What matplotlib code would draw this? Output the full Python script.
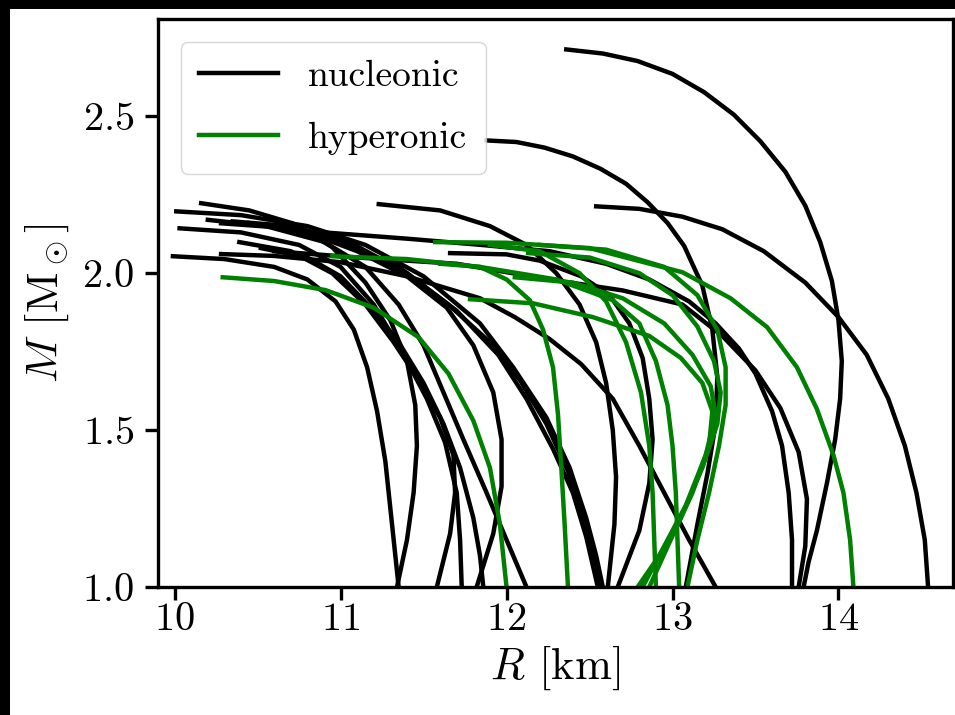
import matplotlib
matplotlib.use("Agg")
import matplotlib.pyplot as plt
from matplotlib.patches import Rectangle

plt.rcParams['font.family'] = ['cmr10', 'DejaVu Serif']
plt.rcParams['mathtext.fontset'] = 'cm'
plt.rcParams['axes.formatter.use_mathtext'] = True

# ---- data: (R [km], M [Msun]) points ----
# nucleonic EoS
nuc_big = [(12.36, 2.713), (12.58, 2.70), (12.79, 2.676), (13.0, 2.635), (13.19, 2.577),
           (13.37, 2.505), (13.53, 2.42), (13.68, 2.323), (13.80, 2.215), (13.89, 2.099),
           (13.96, 1.976), (14.0, 1.85), (14.02, 1.72), (14.01, 1.6), (13.98, 1.47),
           (13.93, 1.33), (13.87, 1.18), (13.82, 1.08), (13.79, 1.0)]
nuc_wide = [(12.54, 2.213), (12.8, 2.205), (13.06, 2.18), (13.3, 2.14), (13.55, 2.07),
            (13.8, 1.97), (14.0, 1.86), (14.17, 1.74), (14.3, 1.6), (14.4, 1.45),
            (14.47, 1.3), (14.52, 1.15), (14.54, 1.0)]
nuc_242 = [(11.88, 2.423), (12.06, 2.418), (12.23, 2.40), (12.4, 2.372), (12.565, 2.333),
           (12.72, 2.285), (12.85, 2.226), (12.97, 2.16), (13.07, 2.087), (13.18, 1.96),
           (13.24, 1.82), (13.27, 1.67), (13.26, 1.52), (13.21, 1.36), (13.15, 1.2),
           (13.08, 1.0)]
nuc_222 = [(11.23, 2.22), (11.6, 2.2), (11.9, 2.15), (12.12, 2.09), (12.3, 2.0),
           (12.44, 1.9), (12.54, 1.78), (12.6, 1.65), (12.64, 1.5), (12.66, 1.35),
           (12.65, 1.2), (12.61, 1.0)]
nuc_mid = [(10.9, 2.13), (11.4, 2.11), (11.85, 2.09), (12.26, 2.07), (12.6, 2.03),
           (12.86, 1.98), (13.1, 1.91), (13.26, 1.84), (13.4, 1.76), (13.5, 1.68),
           (13.6, 1.56), (13.66, 1.45), (13.7, 1.3), (13.72, 1.15), (13.72, 1.0)]
nuc_l9 = [(10.6, 2.07), (11.1, 2.05), (11.7, 2.03), (12.26, 1.98), (12.7, 1.945),
          (13.06, 1.9), (13.3, 1.8), (13.5, 1.69), (13.65, 1.57), (13.76, 1.43),
          (13.81, 1.28), (13.8, 1.13), (13.76, 1.0)]
nuc_diag = [(10.28, 2.061), (10.6, 2.055), (11.0, 2.035), (11.4, 1.99), (11.84, 1.92),
            (12.05, 1.86), (12.26, 1.79), (12.45, 1.71), (12.64, 1.6), (12.8, 1.45),
            (12.95, 1.3), (13.1, 1.15), (13.26, 1.0)]
nuc_b1 = [(10.01, 2.197), (10.4, 2.185), (10.8, 2.15), (11.15, 2.09), (11.5, 1.99),
          (11.84, 1.84), (12.04, 1.7), (12.24, 1.54), (12.38, 1.38), (12.48, 1.22),
          (12.54, 1.1), (12.58, 1.0)]
nuc_b2 = [(10.28, 2.159), (10.65, 2.145), (11.0, 2.1), (11.35, 2.02), (11.65, 1.9),
          (11.9, 1.78), (12.08, 1.66), (12.24, 1.52), (12.37, 1.37), (12.47, 1.2),
          (12.53, 1.08), (12.56, 1.0)]
nuc_b3 = [(10.35, 2.165), (10.7, 2.15), (11.05, 2.1), (11.4, 2.0), (11.7, 1.88),
          (11.95, 1.74), (12.12, 1.6), (12.28, 1.44), (12.4, 1.3), (12.48, 1.16),
          (12.55, 1.0)]
nuc_l4 = [(10.03, 2.143), (10.4, 2.13), (10.75, 2.09), (11.0, 2.02), (11.2, 1.9),
          (11.38, 1.74), (11.52, 1.6), (11.63, 1.46), (11.7, 1.3), (11.72, 1.15),
          (11.73, 1.0)]
nuc_arc = [(10.16, 2.223), (10.45, 2.2), (10.71, 2.159), (10.95, 2.083), (11.15, 1.97),
           (11.3, 1.85), (11.4, 1.72), (11.45, 1.58), (11.46, 1.45), (11.44, 1.3),
           (11.4, 1.15), (11.34, 1.0)]
nuc_l1 = [(9.99, 2.054), (10.3, 2.045), (10.6, 2.02), (10.8, 1.98), (10.97, 1.91),
          (11.08, 1.82), (11.16, 1.70), (11.22, 1.56), (11.27, 1.4), (11.31, 1.2),
          (11.35, 1.0)]
nuc_l3 = [(10.39, 2.099), (10.7, 2.07), (10.95, 2.0), (11.15, 1.9), (11.32, 1.78),
          (11.47, 1.66), (11.6, 1.54), (11.68, 1.42), (11.69, 1.3), (11.66, 1.17),
          (11.58, 1.0)]
nuc_l6 = [(10.52, 2.08), (10.8, 2.05), (11.0, 1.99), (11.2, 1.88), (11.35, 1.78),
          (11.5, 1.65), (11.62, 1.52), (11.72, 1.38), (11.8, 1.22), (11.84, 1.1),
          (11.86, 1.0)]
nuc_l5 = [(10.45, 2.16), (10.8, 2.13), (11.1, 2.07), (11.4, 1.99), (11.64, 1.89),
          (11.8, 1.77), (11.92, 1.62), (11.97, 1.47), (11.97, 1.32), (11.92, 1.17),
          (11.82, 1.0)]
nuc_l7 = [(10.2, 2.17), (10.55, 2.15), (10.9, 2.1), (11.15, 2.02), (11.35, 1.9),
          (11.5, 1.77), (11.62, 1.62), (11.74, 1.47), (11.88, 1.3), (12.0, 1.15),
          (12.12, 1.0)]
nuc_l8 = [(11.66, 2.064), (12.0, 2.06), (12.2, 2.04), (12.45, 1.99), (12.62, 1.93),
          (12.74, 1.84), (12.82, 1.73), (12.86, 1.6), (12.88, 1.47), (12.86, 1.33),
          (12.8, 1.18), (12.67, 1.0)]

# hyperonic EoS
hyp_g1 = [(10.29, 1.987), (10.6, 1.975), (10.91, 1.946), (11.2, 1.89), (11.47, 1.796),
          (11.65, 1.68), (11.8, 1.53), (11.9, 1.38), (11.96, 1.2), (12.0, 1.0)]
hyp_g2 = [(10.95, 2.054), (11.4, 2.045), (11.84, 2.02), (12.0, 1.98), (12.14, 1.914),
          (12.22, 1.82), (12.28, 1.70), (12.31, 1.55), (12.33, 1.38), (12.35, 1.2),
          (12.37, 1.0)]
hyp_g3 = [(11.9, 2.09), (12.2, 2.07), (12.44, 2.0), (12.6, 1.91), (12.72, 1.78),
          (12.81, 1.62), (12.86, 1.45), (12.88, 1.3), (12.89, 1.15), (12.9, 1.0)]
hyp_big = [(11.57, 2.099), (12.0, 2.097), (12.5, 2.08), (13.06, 2.003), (13.35, 1.92),
           (13.57, 1.828), (13.75, 1.7), (13.87, 1.567), (13.97, 1.42), (14.03, 1.3),
           (14.07, 1.15), (14.09, 1.0)]
hyp_c1 = [(12.13, 2.064), (12.5, 2.05), (12.8, 2.0), (13.0, 1.93), (13.15, 1.83),
          (13.25, 1.72), (13.29, 1.62), (13.27, 1.52), (13.18, 1.38), (13.05, 1.22),
          (12.92, 1.1), (12.82, 1.0)]
hyp_c2 = [(12.05, 1.987), (12.4, 1.97), (12.7, 1.92), (12.95, 1.84), (13.12, 1.74),
          (13.23, 1.64), (13.26, 1.55), (13.2, 1.42), (13.08, 1.26), (12.92, 1.1),
          (12.79, 1.0)]
hyp_c3 = [(11.78, 1.917), (12.16, 1.904), (12.52, 1.86), (12.86, 1.8), (13.05, 1.73),
          (13.18, 1.65), (13.24, 1.56), (13.22, 1.45), (13.12, 1.3), (12.98, 1.14),
          (12.86, 1.0)]
hyp_c4 = [(12.2, 2.09), (12.6, 2.075), (12.95, 2.02), (13.15, 1.93), (13.27, 1.82),
          (13.32, 1.7), (13.32, 1.58), (13.28, 1.45), (13.22, 1.3), (13.15, 1.15),
          (13.09, 1.0)]
hyp_c5 = [(11.6, 2.03), (11.84, 2.02), (12.3, 1.98), (12.64, 1.914), (12.8, 1.84),
          (12.9, 1.72), (12.97, 1.58), (13.0, 1.45), (13.02, 1.3), (13.03, 1.15),
          (13.04, 1.0)]

nucleonic = [nuc_big, nuc_wide, nuc_242, nuc_222, nuc_mid, nuc_l9, nuc_diag, nuc_b1,
             nuc_b2, nuc_b3, nuc_l4, nuc_arc, nuc_l1, nuc_l3, nuc_l6, nuc_l5, nuc_l7,
             nuc_l8]
hyperonic = [hyp_g1, hyp_g2, hyp_g3, hyp_big, hyp_c1, hyp_c2, hyp_c3, hyp_c4, hyp_c5]

x_ticks = [10, 11, 12, 13, 14]
y_ticks = [1.0, 1.5, 2.0, 2.5]

fig = plt.figure(figsize=(9.55, 7.15), dpi=100, facecolor='black')
fig.patches.append(Rectangle((10 / 955, 0), 1, 1 - 9 / 715, transform=fig.transFigure,
                             facecolor='white', edgecolor='none', zorder=-10))
ax = fig.add_axes([158 / 955, (715 - 587) / 715, (953 - 158) / 955, (587 - 19) / 715])

lw = 3.2
for i, c in enumerate(nucleonic):
    r, m = zip(*c)
    ax.plot(r, m, color='black', lw=lw, label='nucleonic' if i == 0 else None,
            solid_joinstyle='round')
for i, c in enumerate(hyperonic):
    r, m = zip(*c)
    ax.plot(r, m, color='green', lw=lw, label='hyperonic' if i == 0 else None,
            solid_joinstyle='round')

ax.set_xlim(9.9, 14.69)
ax.set_ylim(1.0, 2.81)
ax.set_xticks(x_ticks)
ax.set_yticks(y_ticks)
ax.tick_params(labelsize=29, width=2.4, length=9.5, direction='out')
ax.tick_params(axis='x', pad=1.5)
ax.tick_params(axis='y', pad=7.5)
for s in ax.spines.values():
    s.set_linewidth(2.4)
ax.set_xlabel(r'$R$ [km]', fontsize=32, labelpad=4)
ax.set_ylabel(r'$M$ [M$_\odot$]', fontsize=32, labelpad=8)

ax.legend(loc='upper left', fontsize=27, handlelength=2.1, handletextpad=0.8,
          labelspacing=0.75, borderpad=0.5, borderaxespad=0.6, framealpha=0.8)

fig.savefig('out.png', dpi=100, facecolor=fig.get_facecolor())
